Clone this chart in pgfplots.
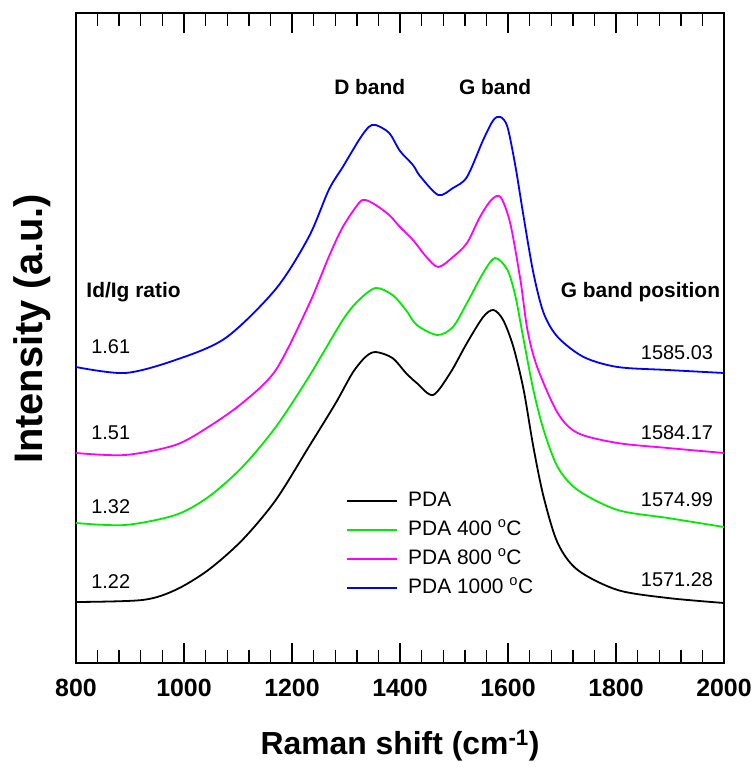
\documentclass[border=0pt]{standalone}
\usepackage{pgfplots}
\pgfplotsset{compat=1.18}
\usepackage{fontspec}
\setmainfont{Liberation Sans}
\definecolor{cblack}{RGB}{0,0,0}
\definecolor{cgreen}{RGB}{0,235,0}
\definecolor{cmag}{RGB}{255,0,255}
\definecolor{cblue}{RGB}{0,0,255}
\begin{document}
\begin{tikzpicture}
\begin{axis}[
  width=648bp, height=650bp, scale only axis,
  xmin=800, xmax=2000, ymin=-1, ymax=649,
  xtick={800,1000,...,2000}, minor x tick num=4,
  ytick=\empty,
  tick align=inside,
  major tick length=20bp, minor tick length=13bp,
  axis line style={line width=1.6bp},
  every tick/.append style={line width=1.4bp, black},
  every minor tick/.append style={line width=1.4bp, black},
  ticklabel style={font=\fontsize{25}{28}\selectfont\bfseries},
  xticklabel style={/pgf/number format/1000 sep={}, yshift=-13bp},
  /pgf/number format/assume math mode=true,
  xlabel={Raman shift (cm\textsuperscript{-1})},
  ylabel={Intensity (a.u.)},
  xlabel style={font=\fontsize{32}{36}\selectfont\bfseries,
    at={(axis description cs:0.5,0)}, anchor=center, yshift=-83bp},
  ylabel style={font=\fontsize{40}{44}\selectfont\bfseries,
    at={(axis description cs:-0.068,0.514)}, anchor=center},
  legend image code/.code={\draw[#1, line width=2bp] (0bp,0bp) -- (50bp,0bp);},
  legend style={at={(axis cs:1300,174)}, anchor=north west, draw=none, fill=none,
    inner sep=0pt, row sep=4bp,
    font=\fontsize{21}{24}\selectfont,
    nodes={inner sep=2bp, text height=16bp, text depth=5bp},
    /tikz/every odd column/.append style={column sep=8bp}},
  legend cell align=left,
]
\coordinate (sw) at (rel axis cs:0,0);
\addplot[cblack, line width=1.8bp, smooth, tension=0.5] coordinates {
(800,60) (923,62) (984,72) (1045,92) (1108,122) (1170,162) (1231,215) (1281,259)
(1312,289) (1336,305) (1355,310) (1386,304) (1411,289) (1431,279) (1461,267)
(1493,289) (1524,319) (1554,345) (1573,352) (1591,342) (1610,315) (1629,272)
(1647,215) (1666,165) (1692,119) (1729,92) (1803,72) (1896,64) (2000,59)};
\addlegendentry{PDA}
\addplot[cgreen, line width=1.8bp, smooth, tension=0.5] coordinates {
(800,139) (891,137) (984,147) (1045,165) (1108,195) (1170,235) (1231,285) (1294,342)
(1324,362) (1355,374) (1386,367) (1411,352) (1431,337) (1469,327) (1498,335)
(1524,359) (1554,389) (1576,404) (1599,392) (1614,365) (1629,322) (1647,272)
(1666,232) (1692,195) (1729,172) (1803,152) (1896,144) (2000,135)};
\addlegendentry{PDA 400 \textsuperscript{o}C}
\addplot[cmag, line width=1.8bp, smooth, tension=0.5] coordinates {
(800,209) (891,207) (984,217) (1045,235) (1108,259) (1170,292) (1231,357) (1268,405)
(1294,435) (1324,459) (1336,462) (1355,457) (1380,447) (1400,435) (1424,422)
(1449,405) (1471,395) (1498,405) (1524,419) (1548,445) (1569,462) (1586,465)
(1604,439) (1623,382) (1636,332) (1654,295) (1692,249) (1729,229) (1803,219)
(1896,214) (2000,209)};
\addlegendentry{PDA 800 \textsuperscript{o}C}
\addplot[cblue, line width=1.8bp, smooth, tension=0.5] coordinates {
(800,295) (891,289) (984,302) (1077,324) (1170,373) (1231,425) (1268,472) (1294,495)
(1324,522) (1342,535) (1355,537) (1380,529) (1400,511) (1424,497) (1437,486)
(1471,467) (1498,474) (1524,485) (1554,522) (1573,542) (1586,545) (1599,535)
(1614,495) (1629,445) (1647,389) (1666,349) (1692,325) (1740,305) (1803,295)
(1896,292) (2000,289)};
\addlegendentry{PDA 1000 \textsuperscript{o}C}
\node[font=\fontsize{21}{24}\selectfont\bfseries] at (axis cs:1344,575) {D band};
\node[font=\fontsize{21}{24}\selectfont\bfseries] at (axis cs:1576,575) {G band};
\node[font=\fontsize{21}{24}\selectfont\bfseries, anchor=west, inner sep=0pt] at (axis cs:819,370) {Id/Ig ratio};
\node[font=\fontsize{21}{24}\selectfont\bfseries, anchor=east, inner sep=0pt] at (axis cs:1993,370) {G band position};
\begin{scope}[every node/.style={font=\fontsize{20}{24}\selectfont, inner sep=0pt}]
\node[anchor=west] at (axis cs:828,315) {1.61};
\node[anchor=west] at (axis cs:828,229) {1.51};
\node[anchor=west] at (axis cs:828,155) {1.32};
\node[anchor=west] at (axis cs:828,80) {1.22};
\node[anchor=east] at (axis cs:1980,309) {1585.03};
\node[anchor=east] at (axis cs:1980,229) {1584.17};
\node[anchor=east] at (axis cs:1980,162) {1574.99};
\node[anchor=east] at (axis cs:1980,82) {1571.28};
\end{scope}
\end{axis}
\pgfresetboundingbox
\path[use as bounding box] ([xshift=-76bp,yshift=-106bp]sw) rectangle ++(755bp,769bp);
\end{tikzpicture}
\end{document}
